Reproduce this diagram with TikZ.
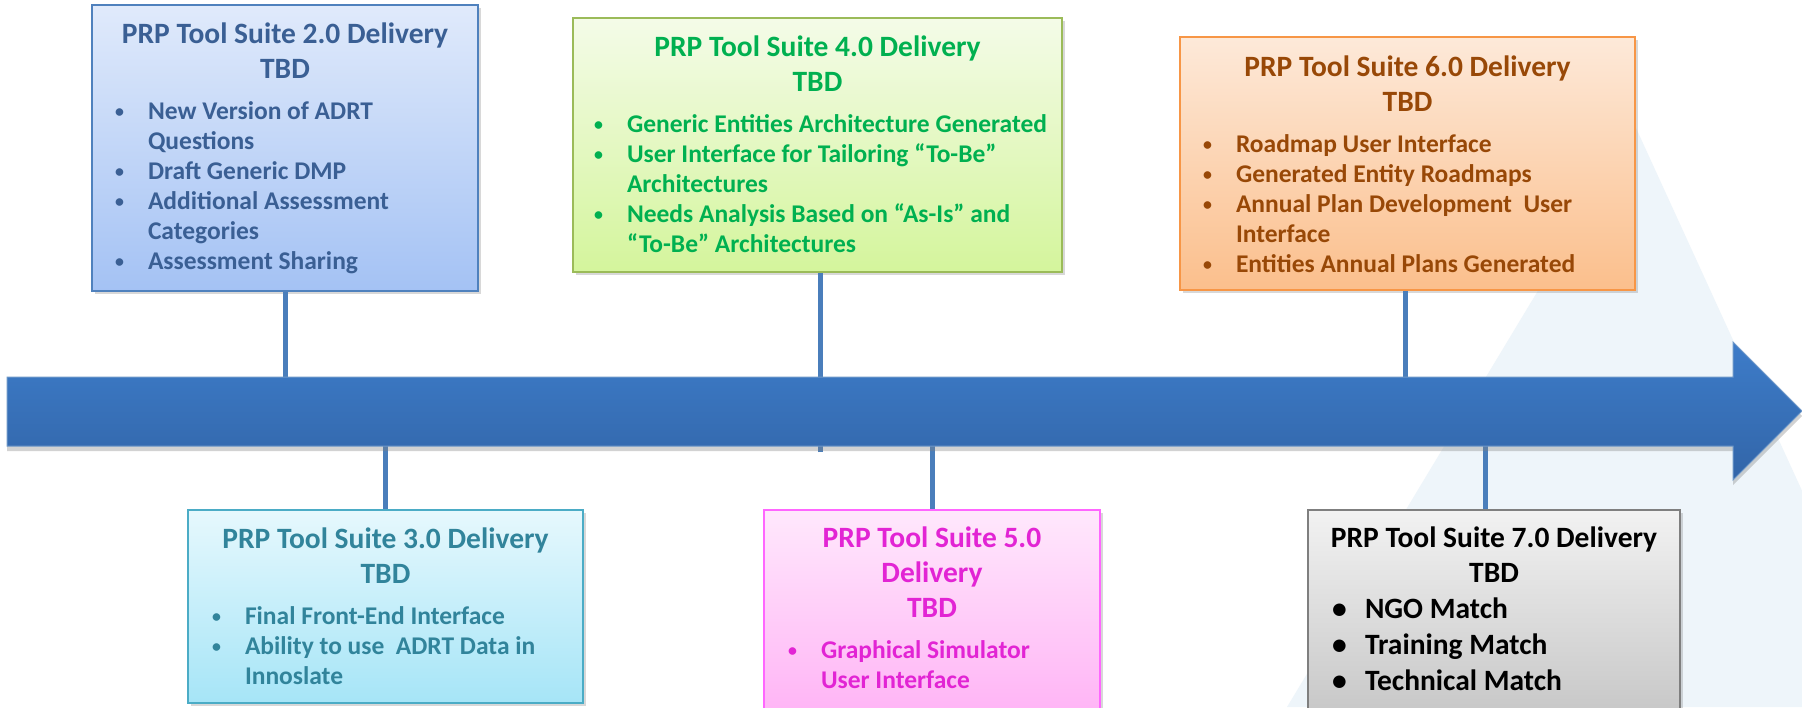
\documentclass[tikz,border=0pt]{standalone}
\usepackage{fontspec}
\usepackage{graphicx}
\setmainfont{Carlito}
\usetikzlibrary{shadows}

\definecolor{linkblue}{HTML}{4A7EBB}
\definecolor{arrowtop}{HTML}{3D7CC9}
\definecolor{arrowbot}{HTML}{3265A8}
\definecolor{bgtri}{HTML}{EEF5FA}
% box colours: text, border, top, bottom
\definecolor{bluetext}{HTML}{3A5F94}
\definecolor{blueline}{HTML}{4F81BD}
\definecolor{bluetop}{HTML}{E0EAFB}
\definecolor{bluebot}{HTML}{A4C2F4}
\definecolor{greentext}{HTML}{00B050}
\definecolor{greenline}{HTML}{9BBB59}
\definecolor{greentop}{HTML}{F4FBE8}
\definecolor{greenbot}{HTML}{D4F59C}
\definecolor{orangetext}{HTML}{984807}
\definecolor{orangeline}{HTML}{F79646}
\definecolor{orangetop}{HTML}{FDE9D9}
\definecolor{orangebot}{HTML}{FBBF8C}
\definecolor{cyantext}{HTML}{31849B}
\definecolor{cyanline}{HTML}{4BACC6}
\definecolor{cyantop}{HTML}{E6F8FD}
\definecolor{cyanbot}{HTML}{A6E5F7}
\definecolor{pinktext}{HTML}{E224D4}
\definecolor{pinkline}{HTML}{FF66FF}
\definecolor{pinktop}{HTML}{FFE8FC}
\definecolor{pinkbot}{HTML}{FFB0F5}
\definecolor{graytext}{HTML}{000000}
\definecolor{grayline}{HTML}{7F7F7F}
\definecolor{graytop}{HTML}{F2F2F2}
\definecolor{graybot}{HTML}{C4C4C4}

\newcommand{\itmdot}{\raisebox{0.8pt}{\scalebox{0.7}{\textbullet}}}
\newcommand{\itm}[1]{\par\hangindent=16.5pt\hangafter=1\noindent\makebox[16.5pt][l]{\itmdot}#1\par}
\newcommand{\delivery}[4]{%
  \begin{minipage}[t]{#1}
    \centering\fontsize{14.75}{17.5}\selectfont #3\par
    \vspace{#2}
    \raggedright\fontsize{12.75}{15}\selectfont #4
  \end{minipage}}

\tikzset{
  box/.style={draw=#1line, line width=1.2pt, top color=#1top, bottom color=#1bot,
    drop shadow={opacity=0.3, shadow xshift=1.5pt, shadow yshift=-1.5pt}},
  boxtext/.style={anchor=base, inner sep=0pt, text=#1text, font=\bfseries},
  link/.style={linkblue, line width=2.5pt},
}

\begin{document}
\begin{tikzpicture}[x=0.5pt, y=-0.5pt]
            \path[use as bounding box, fill=white] (0,0) rectangle (1802,707);
            \fill[bgtri] (1636,128) -- (1901,707) -- (1287,707) -- cycle;

            \coordinate (c2) at (285,411);
            \coordinate (c4) at (820,452);
            \coordinate (c6) at (1405,411);
            \coordinate (c3) at (385,411);
            \coordinate (c5) at (932,411);
            \coordinate (c7) at (1485,411);

            \node[box=blue, minimum width=193pt, minimum height=143pt] (v2) at (285,148) {};
            \node[box=green, minimum width=244.5pt, minimum height=127pt] (v4) at (817.5,145) {};
            \node[box=orange, minimum width=227.5pt, minimum height=126.5pt] (v6) at (1407.5,163.5) {};
            \node[box=cyan, minimum width=197.5pt, minimum height=96.5pt] (v3) at (385.5,606.5) {};
            \node[box=pink, minimum width=168pt, minimum height=110pt] (v5) at (932,620) {};
            \node[box=gray, minimum width=186pt, minimum height=110pt] (v7) at (1494,620) {};

            \draw[link] (c2) -- (c2 |- v2.south);
            \draw[link] (c4) -- (c4 |- v4.south);
            \draw[link] (c6) -- (c6 |- v6.south);
            \draw[link] (c3) -- (c3 |- v3.north);
            \draw[link] (c5) -- (c5 |- v5.north);
            \draw[link] (c7) -- (c7 |- v7.north);

            \draw[draw=linkblue!80!white, line width=0.5pt, top color=arrowtop, bottom color=arrowbot,
                  drop shadow={opacity=0.35, shadow xshift=0pt, shadow yshift=-2.5pt}]
                  (7,377) -- (1733,377) -- (1733,342) -- (1802,411) -- (1733,480) -- (1733,446) -- (7,446) -- cycle;

            \node[boxtext=blue] (t2) at (285,43) {\delivery{170pt}{5.5pt}{PRP Tool Suite 2.0 Delivery\\TBD}{%
                \itm{New Version of ADRT\newline Questions}
                \itm{Draft Generic DMP}
                \itm{Additional Assessment\newline Categories}
                \itm{Assessment Sharing}}};
            \node[boxtext=green] (t4) at (817.5,56) {\delivery{223.5pt}{5.5pt}{PRP Tool Suite 4.0 Delivery\\TBD}{%
                \itm{\mbox{Generic Entities Architecture Generated}}
                \itm{User Interface for Tailoring “To-Be”\newline Architectures}
                \itm{Needs Analysis Based on “As-Is” and\newline “To-Be” Architectures}}};
            \node[boxtext=orange] (t6) at (1407.5,76) {\delivery{204.5pt}{5.5pt}{PRP Tool Suite 6.0 Delivery\\TBD}{%
                \itm{Roadmap User Interface}
                \itm{Generated Entity Roadmaps}
                \itm{Annual Plan Development\ \ User\newline Interface}
                \itm{Entities Annual Plans Generated}}};
            \node[boxtext=cyan] (t3) at (385.5,548) {\delivery{173.5pt}{5.5pt}{PRP Tool Suite 3.0 Delivery\\TBD}{%
                \itm{Final Front-End Interface}
                \itm{Ability to use\ \ ADRT Data in\newline Innoslate}}};
            \node[boxtext=pink] (t5) at (932,547) {\delivery{144pt}{5.5pt}{PRP Tool Suite 5.0\\Delivery\\TBD}{%
                \itm{Graphical Simulator\newline User Interface}}};
            \node[boxtext=gray] (t7) at (1494,547) {\delivery{168pt}{0pt}{PRP Tool Suite 7.0 Delivery\\TBD}{%
                \fontsize{14.75}{18}\selectfont\leftskip=3pt
                \renewcommand{\itmdot}{\textbullet}
                \itm{NGO Match}
                \itm{Training Match}
                \itm{Technical Match}}};
\end{tikzpicture}
\end{document}
